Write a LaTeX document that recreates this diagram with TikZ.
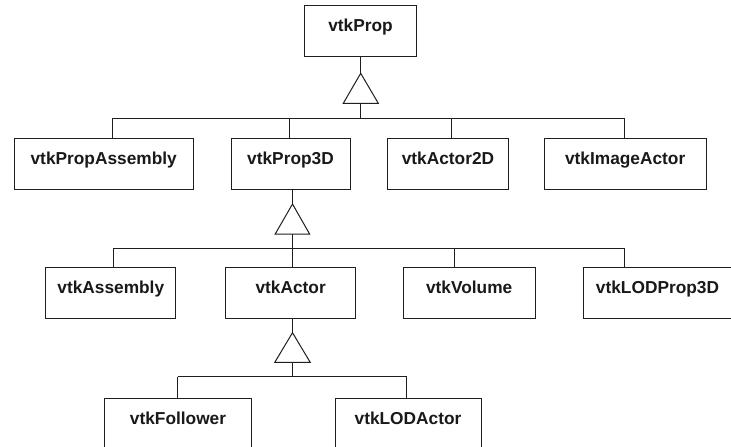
\documentclass[tikz,border=0pt]{standalone}
\usepackage{fontspec}
\setmainfont{Liberation Sans}
\begin{document}
\begin{tikzpicture}[x=1pt,y=-1pt,
  ln/.style={line width=1pt,draw=black!88},
  cls/.style={ln,rectangle,anchor=north,inner xsep=0pt,inner ysep=0pt,
    text height=26pt,text depth=25pt,
    font=\fontsize{17.3}{20}\selectfont\bfseries,text=black!90},
  gen/.style={ln,fill=white,line join=miter}]
\useasboundingbox (0,0) rectangle (731,447);
\clip (0,0) rectangle (731,447);
\fill[white] (0,0) rectangle (731,447);

% level 1
\node[cls,minimum width=112.4pt] (prop) at (360.5,5.3) {vtkProp};
% level 2
\node[cls,minimum width=179.3pt] (propasm) at (103.7,138.3) {vtkPropAssembly};
\node[cls,minimum width=119pt]   (prop3d)  at (290.5,138.3) {vtkProp3D};
\node[cls,minimum width=120.6pt] (actor2d) at (448,138.3)   {vtkActor2D};
\node[cls,minimum width=161.7pt] (imgact)  at (625.2,138.3) {vtkImageActor};
% level 3
\node[cls,minimum width=130.3pt] (assembly) at (110.8,267.3) {vtkAssembly};
\node[cls,minimum width=130pt]   (actor)    at (290.7,267.3) {vtkActor};
\node[cls,minimum width=131.7pt] (volume)   at (469.2,267.3) {vtkVolume};
\node[cls,minimum width=148pt]   (lodprop)  at (657.5,267.3) {vtkLODProp3D};
% level 4
\node[cls,minimum width=147.4pt] (follower) at (178,398.3) {vtkFollower};
\node[cls,minimum width=146pt]   (lodactor) at (408,398.3) {vtkLODActor};

% ---- generalisation 1: vtkProp
\coordinate (t1) at (360.7,73.3);
\coordinate (b1) at (360.7,103.3);
\coordinate (j1) at (360.7,118.5);
\coordinate (l1) at (112.3,118.5);
\coordinate (r1) at (624.5,118.5);
\draw[ln] (t1 |- prop.south) -- (t1);
\draw[gen] (t1) -- (343.3,103.3) -- (378.3,103.3) -- cycle;
\draw[ln] (b1) -- (j1);
\draw[ln] (l1) -- (r1);
\draw[ln] (l1) -- (l1 |- propasm.north);
\draw[ln] (289.3,118.5) -- (289.3,118.5 |- prop3d.north);
\draw[ln] (451.3,118.5) -- (451.3,118.5 |- actor2d.north);
\draw[ln] (r1) -- (r1 |- imgact.north);

% ---- generalisation 2: vtkProp3D
\coordinate (t2) at (292.5,204);
\coordinate (b2) at (292.5,234);
\coordinate (l2) at (113.3,248.3);
\coordinate (r2) at (624.3,248.3);
\draw[ln] (t2 |- prop3d.south) -- (t2);
\draw[gen] (t2) -- (275.2,234) -- (309.6,234) -- cycle;
\draw[ln] (b2) -- (b2 |- actor.north);
\draw[ln] (l2) -- (r2);
\draw[ln] (l2) -- (l2 |- assembly.north);
\draw[ln] (454.3,248.3) -- (454.3,248.3 |- volume.north);
\draw[ln] (r2) -- (r2 |- lodprop.north);

% ---- generalisation 3: vtkActor
\coordinate (t3) at (292.5,332.7);
\coordinate (b3) at (292.5,362.3);
\coordinate (j3) at (292.5,376.7);
\coordinate (l3) at (177.7,376.7);
\coordinate (r3) at (406.7,376.7);
\draw[ln] (t3 |- actor.south) -- (t3);
\draw[gen] (t3) -- (274.8,362.3) -- (310.2,362.3) -- cycle;
\draw[ln] (b3) -- (j3);
\draw[ln] (l3) -- (r3);
\draw[ln] (l3) -- (l3 |- follower.north);
\draw[ln] (r3) -- (r3 |- lodactor.north);
\end{tikzpicture}
\end{document}
